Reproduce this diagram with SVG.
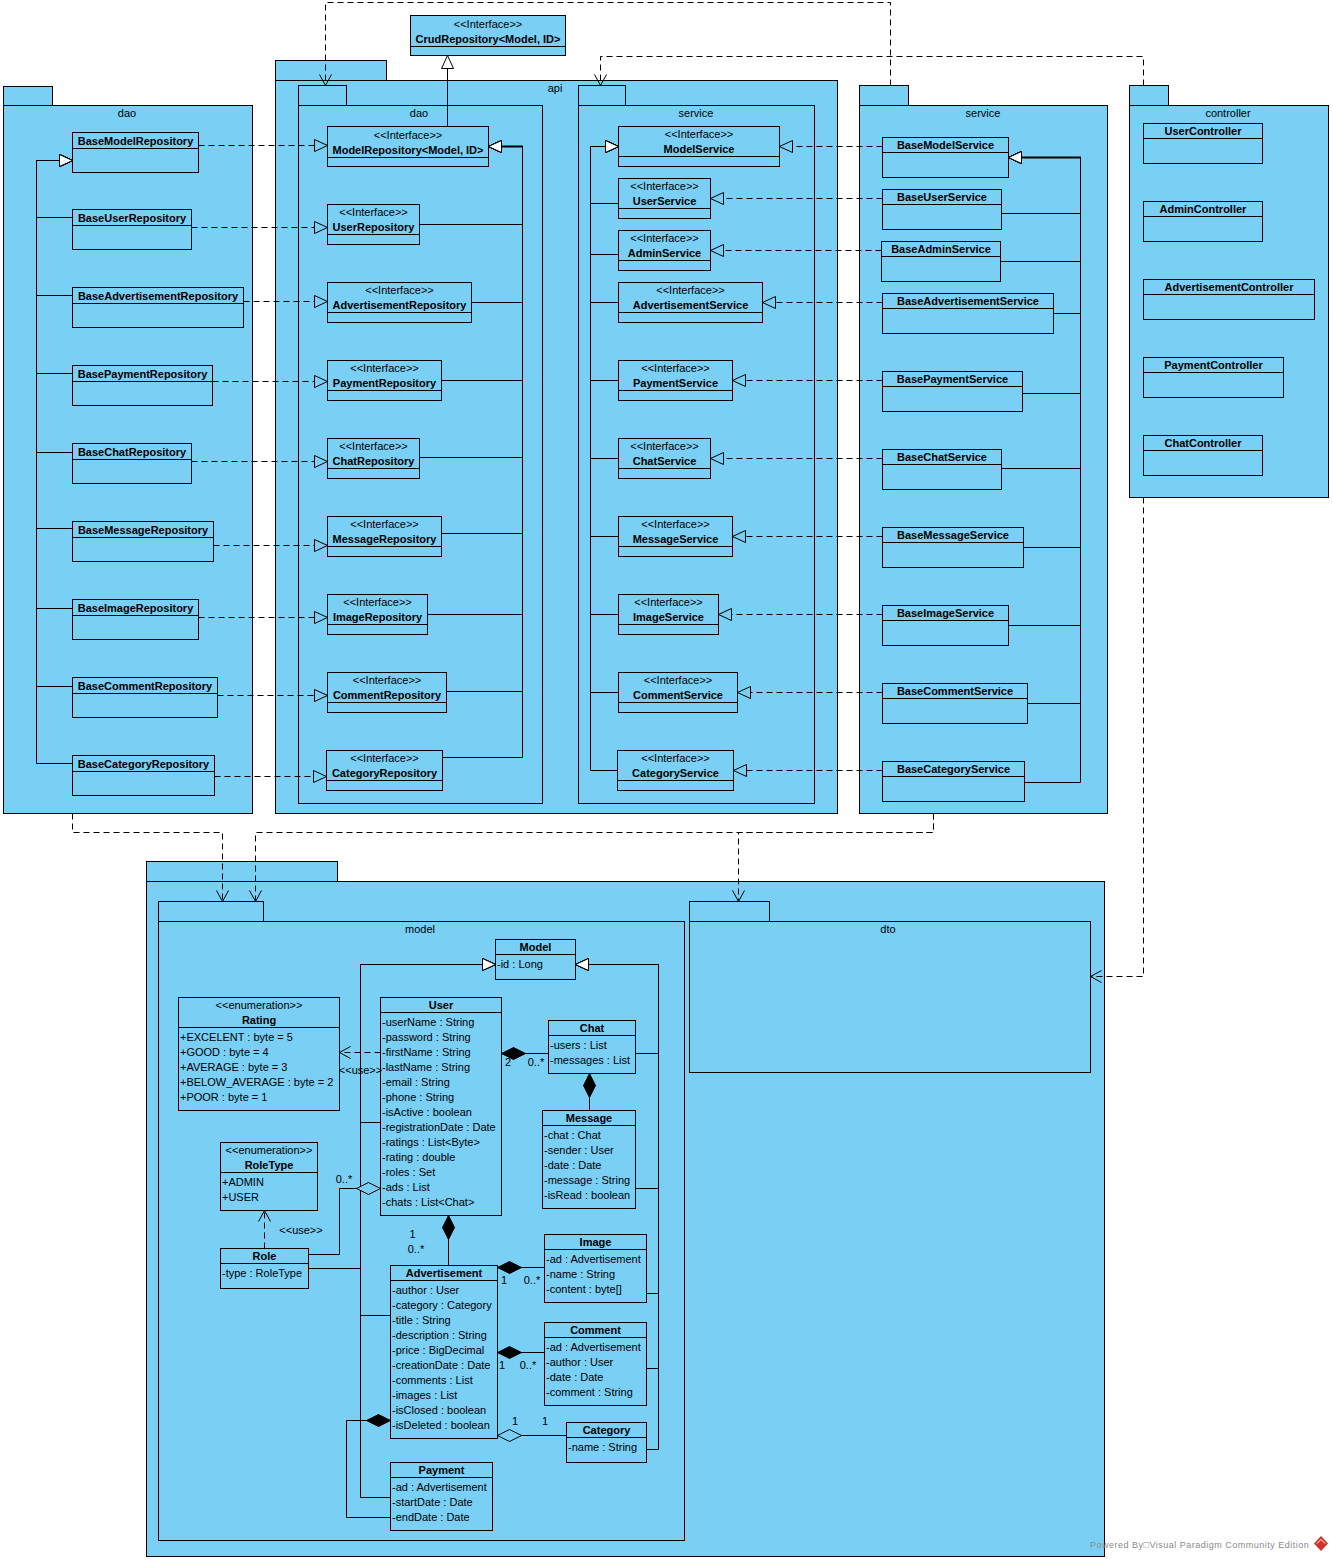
<svg xmlns="http://www.w3.org/2000/svg" width="1333" height="1561" viewBox="0 0 1333 1561">
<style>
text{font-family:"Liberation Sans",Arial,sans-serif;font-size:11px;fill:#000}
.nm{font-weight:bold;text-anchor:middle}
.mid{text-anchor:middle}
.pkg{fill:#7ACFF5;stroke:#000;stroke-width:1}
.cls{fill:#7ACFF5;stroke:#000;stroke-width:1}
.sep{stroke:#000;stroke-width:1}
.ln{fill:none;stroke:#000;stroke-width:1}
.dash{fill:none;stroke:#000;stroke-width:1;stroke-dasharray:6,4}
.thick{fill:none;stroke:#000;stroke-width:2}
.gen{marker-end:url(#gen)}
.real{marker-end:url(#real)}
.dep{marker-end:url(#open)}
.comp{marker-start:url(#comp)}
.agg{marker-start:url(#agg)}
.wm{font-size:9px;fill:#8a8a8a;letter-spacing:0.5px}
</style>
<defs>
<marker id="gen" markerUnits="userSpaceOnUse" markerWidth="14" markerHeight="14" refX="13" refY="6" orient="auto" overflow="visible"><path d="M0,0 L13,6 L0,12 Z" fill="#fff" stroke="#000" stroke-width="1"/></marker>
<marker id="real" markerUnits="userSpaceOnUse" markerWidth="14" markerHeight="14" refX="13" refY="6" orient="auto" overflow="visible"><path d="M0,0 L13,6 L0,12 Z" fill="#7ACFF5" stroke="#000" stroke-width="1"/></marker>
<marker id="open" markerUnits="userSpaceOnUse" markerWidth="12" markerHeight="12" refX="11" refY="6" orient="auto" overflow="visible"><path d="M0,0 L11,6 L0,12" fill="none" stroke="#000" stroke-width="1"/></marker>
<marker id="comp" markerUnits="userSpaceOnUse" markerWidth="24" markerHeight="13" refX="0" refY="6" orient="auto" overflow="visible"><path d="M0,6 L12,0 L24,6 L12,12 Z" fill="#000" stroke="#000" stroke-width="1"/></marker>
<marker id="agg" markerUnits="userSpaceOnUse" markerWidth="24" markerHeight="13" refX="0" refY="6" orient="auto" overflow="visible"><path d="M0,6 L12,0 L24,6 L12,12 Z" fill="#7ACFF5" stroke="#000" stroke-width="1"/></marker>
</defs>
<rect x="0" y="0" width="1333" height="1561" fill="#fff"/>

<!-- packages -->
<g id="pkg-dao-impl">
<rect class="pkg" x="3.5" y="86.5" width="49" height="19"/>
<rect class="pkg" x="3.5" y="105.5" width="249" height="708"/>
<text class="mid" x="127" y="117">dao</text>
</g>
<g id="pkg-api">
<rect class="pkg" x="275.5" y="60.5" width="111" height="20"/>
<rect class="pkg" x="275.5" y="80.5" width="562" height="733"/>
<text class="mid" x="555" y="92">api</text>
</g>
<g id="pkg-api-dao">
<rect class="pkg" x="298.5" y="85.5" width="48" height="20"/>
<rect class="pkg" x="298.5" y="105.5" width="244" height="698"/>
<text class="mid" x="419" y="117">dao</text>
</g>
<g id="pkg-api-service">
<rect class="pkg" x="578.5" y="85.5" width="47" height="20"/>
<rect class="pkg" x="578.5" y="105.5" width="236" height="698"/>
<text class="mid" x="696" y="117">service</text>
</g>
<g id="pkg-service-impl">
<rect class="pkg" x="859.5" y="85.5" width="49" height="20"/>
<rect class="pkg" x="859.5" y="105.5" width="248" height="708"/>
<text class="mid" x="983" y="117">service</text>
</g>
<g id="pkg-controller">
<rect class="pkg" x="1129.5" y="85.5" width="39" height="20"/>
<rect class="pkg" x="1129.5" y="105.5" width="199" height="392"/>
<text class="mid" x="1228" y="117">controller</text>
</g>
<g id="pkg-domain">
<rect class="pkg" x="146.5" y="861.5" width="191" height="20"/>
<rect class="pkg" x="146.5" y="881.5" width="958" height="675"/>
</g>
<g id="pkg-model">
<rect class="pkg" x="158.5" y="901.5" width="105" height="20"/>
<rect class="pkg" x="158.5" y="921.5" width="526" height="619"/>
<text class="mid" x="420" y="933">model</text>
</g>
<g id="pkg-dto">
<rect class="pkg" x="689.5" y="901.5" width="80" height="20"/>
<rect class="pkg" x="689.5" y="921.5" width="401" height="151"/>
<text class="mid" x="888" y="933">dto</text>
</g>

<!-- dao impl classes -->
<g id="BaseModelRepository"><rect class="cls" x="72.5" y="132.5" width="126" height="40"/><line class="sep" x1="72.5" y1="148.5" x2="198.5" y2="148.5"/><text class="nm" x="135.5" y="145">BaseModelRepository</text></g>
<g id="BaseUserRepository"><rect class="cls" x="72.5" y="209.5" width="119" height="40"/><line class="sep" x1="72.5" y1="225.5" x2="191.5" y2="225.5"/><text class="nm" x="132" y="222">BaseUserRepository</text></g>
<g id="BaseAdvertisementRepository"><rect class="cls" x="72.5" y="287.5" width="171" height="40"/><line class="sep" x1="72.5" y1="303.5" x2="243.5" y2="303.5"/><text class="nm" x="158" y="300">BaseAdvertisementRepository</text></g>
<g id="BasePaymentRepository"><rect class="cls" x="72.5" y="365.5" width="140" height="40"/><line class="sep" x1="72.5" y1="381.5" x2="212.5" y2="381.5"/><text class="nm" x="142.5" y="378">BasePaymentRepository</text></g>
<g id="BaseChatRepository"><rect class="cls" x="72.5" y="443.5" width="119" height="40"/><line class="sep" x1="72.5" y1="459.5" x2="191.5" y2="459.5"/><text class="nm" x="132" y="456">BaseChatRepository</text></g>
<g id="BaseMessageRepository"><rect class="cls" x="72.5" y="521.5" width="141" height="40"/><line class="sep" x1="72.5" y1="537.5" x2="213.5" y2="537.5"/><text class="nm" x="143" y="534">BaseMessageRepository</text></g>
<g id="BaseImageRepository"><rect class="cls" x="72.5" y="599.5" width="126" height="40"/><line class="sep" x1="72.5" y1="615.5" x2="198.5" y2="615.5"/><text class="nm" x="135.5" y="612">BaseImageRepository</text></g>
<g id="BaseCommentRepository"><rect class="cls" x="72.5" y="677.5" width="145" height="40"/><line class="sep" x1="72.5" y1="693.5" x2="217.5" y2="693.5"/><text class="nm" x="145" y="690">BaseCommentRepository</text></g>
<g id="BaseCategoryRepository"><rect class="cls" x="72.5" y="755.5" width="142" height="40"/><line class="sep" x1="72.5" y1="771.5" x2="214.5" y2="771.5"/><text class="nm" x="143.5" y="768">BaseCategoryRepository</text></g>

<!-- api dao interfaces -->
<g id="CrudRepository"><rect class="cls" x="410.5" y="15.5" width="155" height="40"/><line class="sep" x1="410.5" y1="46.5" x2="565.5" y2="46.5"/><text class="mid" x="488" y="27.5">&lt;&lt;Interface&gt;&gt;</text><text class="nm" x="488" y="42.5">CrudRepository&lt;Model, ID&gt;</text></g>
<g id="ModelRepository"><rect class="cls" x="327.5" y="126.5" width="161" height="40"/><line class="sep" x1="327.5" y1="157.5" x2="488.5" y2="157.5"/><text class="mid" x="408" y="139">&lt;&lt;Interface&gt;&gt;</text><text class="nm" x="408" y="154">ModelRepository&lt;Model, ID&gt;</text></g>
<g id="UserRepository"><rect class="cls" x="327.5" y="204.5" width="92" height="40"/><line class="sep" x1="327.5" y1="234.5" x2="419.5" y2="234.5"/><text class="mid" x="373.5" y="216">&lt;&lt;Interface&gt;&gt;</text><text class="nm" x="373.5" y="231">UserRepository</text></g>
<g id="AdvertisementRepository"><rect class="cls" x="327.5" y="282.5" width="144" height="40"/><line class="sep" x1="327.5" y1="312.5" x2="471.5" y2="312.5"/><text class="mid" x="399.5" y="294">&lt;&lt;Interface&gt;&gt;</text><text class="nm" x="399.5" y="309">AdvertisementRepository</text></g>
<g id="PaymentRepository"><rect class="cls" x="327.5" y="360.5" width="114" height="40"/><line class="sep" x1="327.5" y1="390.5" x2="441.5" y2="390.5"/><text class="mid" x="384.5" y="372">&lt;&lt;Interface&gt;&gt;</text><text class="nm" x="384.5" y="387">PaymentRepository</text></g>
<g id="ChatRepository"><rect class="cls" x="327.5" y="438.5" width="92" height="40"/><line class="sep" x1="327.5" y1="468.5" x2="419.5" y2="468.5"/><text class="mid" x="373.5" y="450">&lt;&lt;Interface&gt;&gt;</text><text class="nm" x="373.5" y="465">ChatRepository</text></g>
<g id="MessageRepository"><rect class="cls" x="327.5" y="516.5" width="114" height="40"/><line class="sep" x1="327.5" y1="546.5" x2="441.5" y2="546.5"/><text class="mid" x="384.5" y="528">&lt;&lt;Interface&gt;&gt;</text><text class="nm" x="384.5" y="543">MessageRepository</text></g>
<g id="ImageRepository"><rect class="cls" x="327.5" y="594.5" width="100" height="40"/><line class="sep" x1="327.5" y1="624.5" x2="427.5" y2="624.5"/><text class="mid" x="377.5" y="606">&lt;&lt;Interface&gt;&gt;</text><text class="nm" x="377.5" y="621">ImageRepository</text></g>
<g id="CommentRepository"><rect class="cls" x="327.5" y="672.5" width="119" height="40"/><line class="sep" x1="327.5" y1="702.5" x2="446.5" y2="702.5"/><text class="mid" x="387" y="684">&lt;&lt;Interface&gt;&gt;</text><text class="nm" x="387" y="699">CommentRepository</text></g>
<g id="CategoryRepository"><rect class="cls" x="326.5" y="750.5" width="116" height="40"/><line class="sep" x1="326.5" y1="780.5" x2="442.5" y2="780.5"/><text class="mid" x="384.5" y="762">&lt;&lt;Interface&gt;&gt;</text><text class="nm" x="384.5" y="777">CategoryRepository</text></g>

<!-- api service interfaces -->
<g id="ModelService"><rect class="cls" x="618.5" y="126.5" width="161" height="40"/><line class="sep" x1="618.5" y1="156.5" x2="779.5" y2="156.5"/><text class="mid" x="699" y="138">&lt;&lt;Interface&gt;&gt;</text><text class="nm" x="699" y="153">ModelService</text></g>
<g id="UserService"><rect class="cls" x="618.5" y="178.5" width="92" height="40"/><line class="sep" x1="618.5" y1="208.5" x2="710.5" y2="208.5"/><text class="mid" x="664.5" y="190">&lt;&lt;Interface&gt;&gt;</text><text class="nm" x="664.5" y="205">UserService</text></g>
<g id="AdminService"><rect class="cls" x="618.5" y="230.5" width="92" height="40"/><line class="sep" x1="618.5" y1="260.5" x2="710.5" y2="260.5"/><text class="mid" x="664.5" y="242">&lt;&lt;Interface&gt;&gt;</text><text class="nm" x="664.5" y="257">AdminService</text></g>
<g id="AdvertisementService"><rect class="cls" x="618.5" y="282.5" width="144" height="40"/><line class="sep" x1="618.5" y1="312.5" x2="762.5" y2="312.5"/><text class="mid" x="690.5" y="294">&lt;&lt;Interface&gt;&gt;</text><text class="nm" x="690.5" y="309">AdvertisementService</text></g>
<g id="PaymentService"><rect class="cls" x="618.5" y="360.5" width="114" height="40"/><line class="sep" x1="618.5" y1="390.5" x2="732.5" y2="390.5"/><text class="mid" x="675.5" y="372">&lt;&lt;Interface&gt;&gt;</text><text class="nm" x="675.5" y="387">PaymentService</text></g>
<g id="ChatService"><rect class="cls" x="618.5" y="438.5" width="92" height="40"/><line class="sep" x1="618.5" y1="468.5" x2="710.5" y2="468.5"/><text class="mid" x="664.5" y="450">&lt;&lt;Interface&gt;&gt;</text><text class="nm" x="664.5" y="465">ChatService</text></g>
<g id="MessageService"><rect class="cls" x="618.5" y="516.5" width="114" height="40"/><line class="sep" x1="618.5" y1="546.5" x2="732.5" y2="546.5"/><text class="mid" x="675.5" y="528">&lt;&lt;Interface&gt;&gt;</text><text class="nm" x="675.5" y="543">MessageService</text></g>
<g id="ImageService"><rect class="cls" x="618.5" y="594.5" width="100" height="40"/><line class="sep" x1="618.5" y1="624.5" x2="718.5" y2="624.5"/><text class="mid" x="668.5" y="606">&lt;&lt;Interface&gt;&gt;</text><text class="nm" x="668.5" y="621">ImageService</text></g>
<g id="CommentService"><rect class="cls" x="618.5" y="672.5" width="119" height="40"/><line class="sep" x1="618.5" y1="702.5" x2="737.5" y2="702.5"/><text class="mid" x="678" y="684">&lt;&lt;Interface&gt;&gt;</text><text class="nm" x="678" y="699">CommentService</text></g>
<g id="CategoryService"><rect class="cls" x="617.5" y="750.5" width="116" height="40"/><line class="sep" x1="617.5" y1="780.5" x2="733.5" y2="780.5"/><text class="mid" x="675.5" y="762">&lt;&lt;Interface&gt;&gt;</text><text class="nm" x="675.5" y="777">CategoryService</text></g>

<!-- service impl classes -->
<g id="BaseModelService"><rect class="cls" x="882.5" y="137.5" width="126" height="40"/><line class="sep" x1="882.5" y1="152.5" x2="1008.5" y2="152.5"/><text class="nm" x="945.5" y="149">BaseModelService</text></g>
<g id="BaseUserService"><rect class="cls" x="882.5" y="189.5" width="119" height="40"/><line class="sep" x1="882.5" y1="204.5" x2="1001.5" y2="204.5"/><text class="nm" x="942" y="201">BaseUserService</text></g>
<g id="BaseAdminService"><rect class="cls" x="881.5" y="241.5" width="119" height="40"/><line class="sep" x1="881.5" y1="256.5" x2="1000.5" y2="256.5"/><text class="nm" x="941" y="253">BaseAdminService</text></g>
<g id="BaseAdvertisementService"><rect class="cls" x="882.5" y="293.5" width="171" height="40"/><line class="sep" x1="882.5" y1="308.5" x2="1053.5" y2="308.5"/><text class="nm" x="968" y="305">BaseAdvertisementService</text></g>
<g id="BasePaymentService"><rect class="cls" x="882.5" y="371.5" width="140" height="40"/><line class="sep" x1="882.5" y1="386.5" x2="1022.5" y2="386.5"/><text class="nm" x="952.5" y="383">BasePaymentService</text></g>
<g id="BaseChatService"><rect class="cls" x="882.5" y="449.5" width="119" height="40"/><line class="sep" x1="882.5" y1="464.5" x2="1001.5" y2="464.5"/><text class="nm" x="942" y="461">BaseChatService</text></g>
<g id="BaseMessageService"><rect class="cls" x="882.5" y="527.5" width="141" height="40"/><line class="sep" x1="882.5" y1="542.5" x2="1023.5" y2="542.5"/><text class="nm" x="953" y="539">BaseMessageService</text></g>
<g id="BaseImageService"><rect class="cls" x="882.5" y="605.5" width="126" height="40"/><line class="sep" x1="882.5" y1="620.5" x2="1008.5" y2="620.5"/><text class="nm" x="945.5" y="617">BaseImageService</text></g>
<g id="BaseCommentService"><rect class="cls" x="882.5" y="683.5" width="145" height="40"/><line class="sep" x1="882.5" y1="698.5" x2="1027.5" y2="698.5"/><text class="nm" x="955" y="695">BaseCommentService</text></g>
<g id="BaseCategoryService"><rect class="cls" x="882.5" y="761.5" width="142" height="40"/><line class="sep" x1="882.5" y1="776.5" x2="1024.5" y2="776.5"/><text class="nm" x="953.5" y="773">BaseCategoryService</text></g>

<!-- controllers -->
<g id="UserController"><rect class="cls" x="1143.5" y="123.5" width="119" height="40"/><line class="sep" x1="1143.5" y1="138.5" x2="1262.5" y2="138.5"/><text class="nm" x="1203" y="135">UserController</text></g>
<g id="AdminController"><rect class="cls" x="1143.5" y="201.5" width="119" height="40"/><line class="sep" x1="1143.5" y1="216.5" x2="1262.5" y2="216.5"/><text class="nm" x="1203" y="213">AdminController</text></g>
<g id="AdvertisementController"><rect class="cls" x="1143.5" y="279.5" width="171" height="40"/><line class="sep" x1="1143.5" y1="294.5" x2="1314.5" y2="294.5"/><text class="nm" x="1229" y="291">AdvertisementController</text></g>
<g id="PaymentController"><rect class="cls" x="1143.5" y="357.5" width="140" height="40"/><line class="sep" x1="1143.5" y1="372.5" x2="1283.5" y2="372.5"/><text class="nm" x="1213.5" y="369">PaymentController</text></g>
<g id="ChatController"><rect class="cls" x="1143.5" y="435.5" width="119" height="40"/><line class="sep" x1="1143.5" y1="450.5" x2="1262.5" y2="450.5"/><text class="nm" x="1203" y="447">ChatController</text></g>

<!-- model classes -->
<g id="Model"><rect class="cls" x="495.5" y="939.5" width="80" height="40"/><line class="sep" x1="495.5" y1="954.5" x2="575.5" y2="954.5"/><text class="nm" x="535.5" y="951">Model</text><text x="497" y="968">-id : Long</text></g>
<g id="Rating"><rect class="cls" x="178.5" y="997.5" width="161" height="113"/><line class="sep" x1="178.5" y1="1027.5" x2="339.5" y2="1027.5"/><text class="mid" x="259" y="1009">&lt;&lt;enumeration&gt;&gt;</text><text class="nm" x="259" y="1024">Rating</text>
<text x="180" y="1041">+EXCELENT : byte = 5</text><text x="180" y="1056">+GOOD : byte = 4</text><text x="180" y="1071">+AVERAGE : byte = 3</text><text x="180" y="1086">+BELOW_AVERAGE : byte = 2</text><text x="180" y="1101">+POOR : byte = 1</text></g>
<g id="User"><rect class="cls" x="380.5" y="997.5" width="121" height="218"/><line class="sep" x1="380.5" y1="1012.5" x2="501.5" y2="1012.5"/><text class="nm" x="441" y="1009">User</text>
<text x="382" y="1026">-userName : String</text><text x="382" y="1041">-password : String</text><text x="382" y="1056">-firstName : String</text><text x="382" y="1071">-lastName : String</text><text x="382" y="1086">-email : String</text><text x="382" y="1101">-phone : String</text><text x="382" y="1116">-isActive : boolean</text><text x="382" y="1131">-registrationDate : Date</text><text x="382" y="1146">-ratings : List&lt;Byte&gt;</text><text x="382" y="1161">-rating : double</text><text x="382" y="1176">-roles : Set</text><text x="382" y="1191">-ads : List</text><text x="382" y="1206">-chats : List&lt;Chat&gt;</text></g>
<g id="Chat"><rect class="cls" x="548.5" y="1020.5" width="87" height="53"/><line class="sep" x1="548.5" y1="1035.5" x2="635.5" y2="1035.5"/><text class="nm" x="592" y="1032">Chat</text><text x="550" y="1049">-users : List</text><text x="550" y="1064">-messages : List</text></g>
<g id="Message"><rect class="cls" x="542.5" y="1110.5" width="93" height="98"/><line class="sep" x1="542.5" y1="1125.5" x2="635.5" y2="1125.5"/><text class="nm" x="589" y="1122">Message</text><text x="544" y="1139">-chat : Chat</text><text x="544" y="1154">-sender : User</text><text x="544" y="1169">-date : Date</text><text x="544" y="1184">-message : String</text><text x="544" y="1199">-isRead : boolean</text></g>
<g id="RoleType"><rect class="cls" x="220.5" y="1142.5" width="97" height="68"/><line class="sep" x1="220.5" y1="1172.5" x2="317.5" y2="1172.5"/><text class="mid" x="269" y="1154">&lt;&lt;enumeration&gt;&gt;</text><text class="nm" x="269" y="1169">RoleType</text><text x="222" y="1186">+ADMIN</text><text x="222" y="1201">+USER</text></g>
<g id="Role"><rect class="cls" x="220.5" y="1248.5" width="88" height="40"/><line class="sep" x1="220.5" y1="1263.5" x2="308.5" y2="1263.5"/><text class="nm" x="264.5" y="1260">Role</text><text x="222" y="1277">-type : RoleType</text></g>
<g id="Advertisement"><rect class="cls" x="390.5" y="1265.5" width="107" height="173"/><line class="sep" x1="390.5" y1="1280.5" x2="497.5" y2="1280.5"/><text class="nm" x="444" y="1277">Advertisement</text>
<text x="392" y="1294">-author : User</text><text x="392" y="1309">-category : Category</text><text x="392" y="1324">-title : String</text><text x="392" y="1339">-description : String</text><text x="392" y="1354">-price : BigDecimal</text><text x="392" y="1369">-creationDate : Date</text><text x="392" y="1384">-comments : List</text><text x="392" y="1399">-images : List</text><text x="392" y="1414">-isClosed : boolean</text><text x="392" y="1429">-isDeleted : boolean</text></g>
<g id="Image"><rect class="cls" x="544.5" y="1234.5" width="102" height="68"/><line class="sep" x1="544.5" y1="1249.5" x2="646.5" y2="1249.5"/><text class="nm" x="595.5" y="1246">Image</text><text x="546" y="1263">-ad : Advertisement</text><text x="546" y="1278">-name : String</text><text x="546" y="1293">-content : byte[]</text></g>
<g id="Comment"><rect class="cls" x="544.5" y="1322.5" width="102" height="83"/><line class="sep" x1="544.5" y1="1337.5" x2="646.5" y2="1337.5"/><text class="nm" x="595.5" y="1334">Comment</text><text x="546" y="1351">-ad : Advertisement</text><text x="546" y="1366">-author : User</text><text x="546" y="1381">-date : Date</text><text x="546" y="1396">-comment : String</text></g>
<g id="Category"><rect class="cls" x="566.5" y="1422.5" width="80" height="40"/><line class="sep" x1="566.5" y1="1437.5" x2="646.5" y2="1437.5"/><text class="nm" x="606.5" y="1434">Category</text><text x="568" y="1451">-name : String</text></g>
<g id="Payment"><rect class="cls" x="390.5" y="1462.5" width="102" height="68"/><line class="sep" x1="390.5" y1="1477.5" x2="492.5" y2="1477.5"/><text class="nm" x="441.5" y="1474">Payment</text><text x="392" y="1491">-ad : Advertisement</text><text x="392" y="1506">-startDate : Date</text><text x="392" y="1521">-endDate : Date</text></g>

<!-- connectors -->
<g id="connectors">
<!-- dao impl generalization -->
<path class="ln gen" d="M72.5,217.5 H36.5 V160.5 H72.5"/>
<path class="ln gen" d="M72.5,295.5 H36.5 V160.5 H72.5"/>
<path class="ln gen" d="M72.5,373.5 H36.5 V160.5 H72.5"/>
<path class="ln gen" d="M72.5,452.5 H36.5 V160.5 H72.5"/>
<path class="ln gen" d="M72.5,528.5 H36.5 V160.5 H72.5"/>
<path class="ln gen" d="M72.5,608.5 H36.5 V160.5 H72.5"/>
<path class="ln gen" d="M72.5,686.5 H36.5 V160.5 H72.5"/>
<path class="ln gen" d="M72.5,763.5 H36.5 V160.5 H72.5"/>
<!-- dao realizations -->
<path class="dash real" d="M198.5,145.5 H327.5"/>
<path class="dash real" d="M191.5,227.5 H327.5"/>
<path class="dash real" d="M243.5,301.5 H327.5"/>
<path class="dash real" d="M212.5,381.5 H327.5"/>
<path class="dash real" d="M191.5,461.5 H327.5"/>
<path class="dash real" d="M213.5,545.5 H327.5"/>
<path class="dash real" d="M198.5,617.5 H327.5"/>
<path class="dash real" d="M217.5,695.5 H327.5"/>
<path class="dash real" d="M214.5,776.5 H326.5"/>
<!-- api dao generalization -->
<path class="ln gen" d="M447.5,126.5 V55.5"/>
<path class="ln gen" d="M419.5,224.5 H522.5 V146.5 H488.5"/>
<path class="ln gen" d="M471.5,302.5 H522.5 V146.5 H488.5"/>
<path class="ln gen" d="M441.5,380.5 H522.5 V146.5 H488.5"/>
<path class="ln gen" d="M419.5,457.5 H522.5 V146.5 H488.5"/>
<path class="ln gen" d="M441.5,533.5 H522.5 V146.5 H488.5"/>
<path class="ln gen" d="M427.5,614.5 H522.5 V146.5 H488.5"/>
<path class="ln gen" d="M446.5,691.5 H522.5 V146.5 H488.5"/>
<path class="ln gen" d="M442.5,757.5 H522.5 V146.5 H488.5"/>
<path class="thick" d="M523,146.5 H501.5"/>
<!-- api service generalization -->
<path class="ln gen" d="M618.5,203.5 H590.5 V146.5 H618.5"/>
<path class="ln gen" d="M618.5,254.5 H590.5 V146.5 H618.5"/>
<path class="ln gen" d="M618.5,302.5 H590.5 V146.5 H618.5"/>
<path class="ln gen" d="M618.5,380.5 H590.5 V146.5 H618.5"/>
<path class="ln gen" d="M618.5,458.5 H590.5 V146.5 H618.5"/>
<path class="ln gen" d="M618.5,536.5 H590.5 V146.5 H618.5"/>
<path class="ln gen" d="M618.5,614.5 H590.5 V146.5 H618.5"/>
<path class="ln gen" d="M618.5,692.5 H590.5 V146.5 H618.5"/>
<path class="ln gen" d="M617.5,770.5 H590.5 V146.5 H618.5"/>
<!-- service realizations -->
<path class="dash real" d="M882.5,146.5 H779.5"/>
<path class="dash real" d="M882.5,198.5 H710.5"/>
<path class="dash real" d="M881.5,250.5 H710.5"/>
<path class="dash real" d="M882.5,302.5 H762.5"/>
<path class="dash real" d="M882.5,380.5 H732.5"/>
<path class="dash real" d="M882.5,458.5 H710.5"/>
<path class="dash real" d="M882.5,536.5 H732.5"/>
<path class="dash real" d="M882.5,614.5 H718.5"/>
<path class="dash real" d="M882.5,692.5 H737.5"/>
<path class="dash real" d="M882.5,770.5 H733.5"/>
<!-- service impl generalization -->
<path class="ln gen" d="M1001.5,213.5 H1080.5 V157.5 H1008.5"/>
<path class="ln gen" d="M1000.5,261.5 H1080.5 V157.5 H1008.5"/>
<path class="ln gen" d="M1053.5,313.5 H1080.5 V157.5 H1008.5"/>
<path class="ln gen" d="M1022.5,393.5 H1080.5 V157.5 H1008.5"/>
<path class="ln gen" d="M1001.5,468.5 H1080.5 V157.5 H1008.5"/>
<path class="ln gen" d="M1023.5,547.5 H1080.5 V157.5 H1008.5"/>
<path class="ln gen" d="M1008.5,625.5 H1080.5 V157.5 H1008.5"/>
<path class="ln gen" d="M1027.5,703.5 H1080.5 V157.5 H1008.5"/>
<path class="ln gen" d="M1024.5,782.5 H1080.5 V157.5 H1008.5"/>
<path class="thick" d="M1081,157.5 H1021.5"/>
<!-- package dependencies -->
<path class="dash dep" d="M890.5,85.5 V2.5 H325.5 V85.5"/>
<path class="dash dep" d="M1143.5,85.5 V56.5 H600.5 V85.5"/>
<path class="dash dep" d="M1143.5,497.5 V976.5 H1090.5"/>
<path class="dash dep" d="M72.5,813.5 V832.5 H222.5 V901.5"/>
<path class="dash dep" d="M933.5,813.5 V832.5 H255.5 V901.5"/>
<path class="dash dep" d="M933.5,813.5 V832.5 H738.5 V901.5"/>
<!-- model generalizations -->
<path class="ln gen" d="M380.5,1122.5 H360.5 V964.5 H495.5"/>
<path class="ln gen" d="M308.5,1268.5 H360.5 V964.5 H495.5"/>
<path class="ln gen" d="M390.5,1315.5 H360.5 V964.5 H495.5"/>
<path class="ln gen" d="M390.5,1497.5 H360.5 V964.5 H495.5"/>
<path class="ln gen" d="M635.5,1053.5 H658.5 V964.5 H575.5"/>
<path class="ln gen" d="M635.5,1188.5 H658.5 V964.5 H575.5"/>
<path class="ln gen" d="M646.5,1293.5 H658.5 V964.5 H575.5"/>
<path class="ln gen" d="M646.5,1368.5 H658.5 V964.5 H575.5"/>
<path class="ln gen" d="M646.5,1449.5 H658.5 V964.5 H575.5"/>
<!-- model associations -->
<path class="ln comp" d="M501.5,1053.5 H548.5"/>
<path class="ln comp" d="M589.5,1073.5 V1110.5"/>
<path class="ln comp" d="M448.5,1215.5 V1265.5"/>
<path class="ln comp" d="M497.5,1267.5 H544.5"/>
<path class="ln comp" d="M497.5,1352.5 H544.5"/>
<path class="ln agg" d="M497.5,1435.5 H566.5"/>
<path class="ln comp" d="M390.5,1420.5 H346.5 V1517.5 H390.5"/>
<path class="ln agg" d="M380.5,1188.5 H339.5 V1254.5 H308.5"/>
<path class="dash dep" d="M264.5,1248.5 V1210.5"/>
<path class="dash dep" d="M380.5,1052.5 H339.5"/>
<!-- labels -->
<text class="mid" x="360.5" y="1074">&lt;&lt;use&gt;&gt;</text>
<text class="mid" x="301" y="1234">&lt;&lt;use&gt;&gt;</text>
<text class="mid" x="508" y="1066">2</text>
<text class="mid" x="536" y="1066">0..*</text>
<text class="mid" x="344" y="1183">0..*</text>
<text class="mid" x="412.5" y="1238">1</text>
<text class="mid" x="416" y="1253">0..*</text>
<text class="mid" x="504" y="1284">1</text>
<text class="mid" x="532" y="1284">0..*</text>
<text class="mid" x="502" y="1369">1</text>
<text class="mid" x="528" y="1369">0..*</text>
<text class="mid" x="515" y="1425">1</text>
<text class="mid" x="545" y="1425">1</text>
</g>

<g id="watermark">
<text class="wm" x="1090" y="1548">Powered By□Visual Paradigm Community Edition</text>
<path d="M1321,1536 L1328,1543.5 L1321,1551 L1314,1543.5 Z" fill="#d2322d"/>
<path d="M1317,1543.5 L1321,1539.5 L1325,1543.5" fill="none" stroke="#fff" stroke-width="1"/>
</g>
</svg>
